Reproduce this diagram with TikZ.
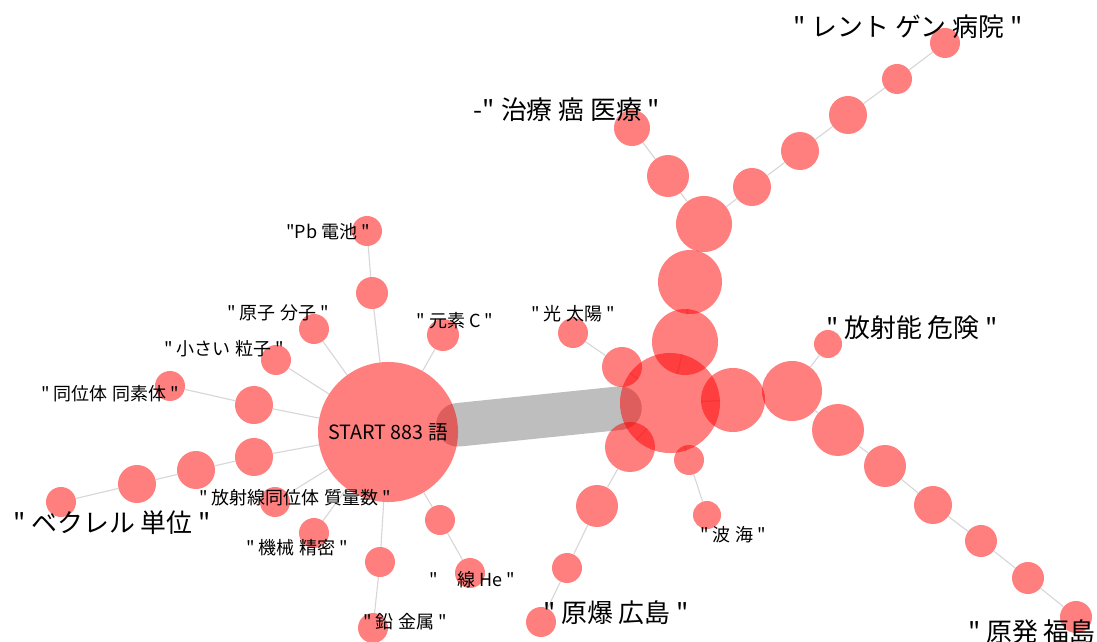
\documentclass[tikz,border=0pt]{standalone}
\usepackage{fontspec}
\setmainfont{Noto Sans CJK JP}[Ligatures=TeXOff]
\pgfdeclarelayer{bg}\pgfsetlayers{bg,main}
\definecolor{edgec}{RGB}{215,215,215}
\definecolor{bandc}{RGB}{190,190,190}
\tikzset{
 nd/.style={circle, fill=red, fill opacity=0.5, text opacity=1, draw=none, inner sep=0pt, minimum size=#1*0.05cm},
 edge/.style={draw=edgec, line width=0.8pt},
 band/.style={draw=bandc, line width=31pt, line cap=round},
 big/.style={font=\fontsize{18.4}{21}\selectfont, text=black, inner sep=0pt},
 small/.style={font=\fontsize{12.8}{15}\selectfont, text=black, inner sep=0pt},
}
\begin{document}
\begin{tikzpicture}[x=0.025cm, y=-0.025cm]
\useasboundingbox (0,0) rectangle (1097,642);
% START cluster
\node[nd=70, font=\fontsize{14}{16}\selectfont] (start) at (388,432) {START 883 語};
\node[nd=16] (a1) at (372,293) {};
\node[nd=15] (a2) at (367,231) {};
\node[nd=16] (b) at (443,335) {};
\node[nd=15] (c) at (314,329) {};
\node[nd=15] (d) at (276,360) {};
\node[nd=19] (f1) at (254,405) {};
\node[nd=15] (f2) at (170,386) {};
\node[nd=19] (g1) at (254,457) {};
\node[nd=19] (g2) at (196,470) {};
\node[nd=19] (g3) at (137,484) {};
\node[nd=15] (g4) at (61,502) {};
\node[nd=15] (k) at (275,502) {};
\node[nd=15] (m) at (314,533) {};
\node[nd=15] (n1) at (440,520) {};
\node[nd=15] (n2) at (470,573) {};
\node[nd=15] (p1) at (380,562) {};
\node[nd=15] (p2) at (373,628) {};
% hub cluster
\node[nd=50] (hub) at (670,403) {};
\node[nd=33] (h1) at (685,342) {};
\node[nd=32] (h2) at (690,282) {};
\node[nd=28] (h3) at (704,224) {};
\node[nd=21] (t1) at (668,176) {};
\node[nd=18] (t2) at (632,128) {};
\node[nd=19] (r1) at (752,187) {};
\node[nd=19] (r2) at (800,151) {};
\node[nd=19] (r3) at (848,115) {};
\node[nd=15] (r4) at (897,79) {};
\node[nd=15] (r5) at (945,43) {};
\node[nd=32] (e1) at (733,400) {};
\node[nd=30] (e2) at (792,391) {};
\node[nd=26] (e3) at (838,430) {};
\node[nd=21] (e4) at (885,466) {};
\node[nd=19] (e5) at (933,505) {};
\node[nd=16] (e6) at (981,541) {};
\node[nd=16] (e7) at (1028,578) {};
\node[nd=16] (e8) at (1076,617) {};
\node[nd=14] (d1) at (828,344) {};
\node[nd=20] (s1) at (622,367) {};
\node[nd=15] (s2) at (573,333) {};
\node[nd=25] (w1) at (630,447) {};
\node[nd=21] (w2) at (597,506) {};
\node[nd=15] (w3) at (567,568) {};
\node[nd=15] (w4) at (541,622) {};
\node[nd=15] (v1) at (689,460) {};
\node[nd=14] (v2) at (707,515) {};
% edges and band
\begin{pgfonlayer}{bg}
\foreach \u/\v in {start/a1,a1/a2,start/b,start/c,start/d,start/f1,f1/f2,start/g1,g1/g2,g2/g3,g3/g4,start/k,start/m,start/n1,n1/n2,start/p1,p1/p2,
 hub/h1,h1/h2,h2/h3,h3/t1,t1/t2,h3/r1,r1/r2,r2/r3,r3/r4,r4/r5,hub/e1,e1/e2,e2/e3,e3/e4,e4/e5,e5/e6,e6/e7,e7/e8,e2/d1,
 hub/s1,s1/s2,hub/w1,w1/w2,w2/w3,w3/w4,hub/v1,v1/v2}
  \draw[edge] (\u) -- (\v);
\draw[band] (start) -- (hub);
\end{pgfonlayer}
% labels
\node[big] (lr5) at (908,27) {" レント ゲン 病院 "};
\node[big] (lt2) at (567,110) {-" 治療 癌 医療 "};
\node[big] (ld1) at (912,328) {" 放射能 危険 "};
\node[big] (lg4) at (112,523) {" ベクレル 単位 "};
\node[big] (lw4) at (616,613) {" 原爆 広島 "};
\node[big, anchor=west] (le8) at (968,632) {" 原発 福島 "};
\node[small] (la2) at (328,232) {"Pb 電池 "};
\node[small] (lb) at (455,321) {" 元素 C "};
\node[small] (ls2) at (573,314) {" 光 太陽 "};
\node[small] (lc) at (278,313) {" 原子 分子 "};
\node[small] (ld) at (224,349) {" 小さい 粒子 "};
\node[small] (lf2) at (110,394) {" 同位体 同素体 "};
\node[small] (lk) at (295,498) {" 放射線同位体 質量数 "};
\node[small] (lm) at (297,548) {" 機械 精密 "};
\node[small] (lv2) at (733,535) {" 波 海 "};
\node[small] (ln2) at (472,580) {"\hspace{1.1em}線 He "};
\node[small] (lp2) at (405,622) {" 鉛 金属 "};
\end{tikzpicture}
\end{document}
